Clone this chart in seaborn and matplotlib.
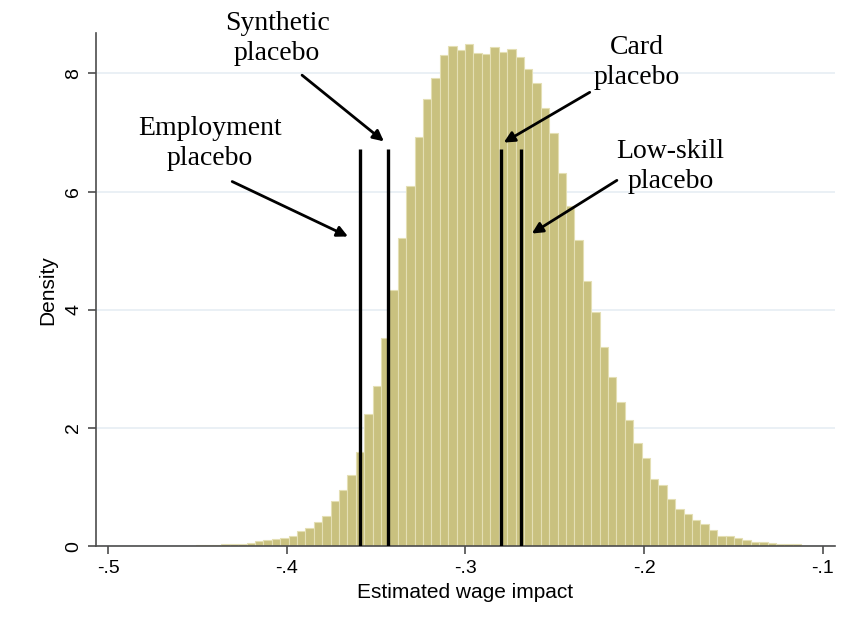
"""
Placebo wage impacts - histogram of estimated effects with placebo markers.
"""

import numpy as np
import pandas as pd
import matplotlib
matplotlib.use("Agg")
import matplotlib.pyplot as plt
import seaborn as sns

# ---- data ----
BIN_START = -0.4507
BIN_END = -0.1120
DENSITY = [
    0.02, 0.02, 0.02, 0.03, 0.04, 0.04, 0.05, 0.08, 0.10, 0.12,
    0.13, 0.17, 0.26, 0.30, 0.40, 0.51, 0.76, 0.95, 1.21, 1.59,
    2.23, 2.71, 3.52, 4.33, 5.22, 6.10, 6.93, 7.57, 7.92, 8.32,
    8.47, 8.39, 8.49, 8.35, 8.33, 8.44, 8.36, 8.42, 8.28, 8.08,
    7.83, 7.42, 6.99, 6.32, 5.75, 5.18, 4.48, 3.97, 3.37, 2.86,
    2.44, 2.14, 1.75, 1.49, 1.13, 1.03, 0.79, 0.63, 0.55, 0.44,
    0.37, 0.28, 0.17, 0.17, 0.13, 0.11, 0.07, 0.07, 0.06, 0.04,
    0.03, 0.03,
]

PLACEBO_NAMES = ["Employment\nplacebo", "Synthetic\nplacebo", "Card\nplacebo", "Low-skill\nplacebo"]
PLACEBO_X = [-0.3587, -0.3433, -0.2801, -0.2689]
PLACEBO_HEIGHT = 6.72

# label centre, arrow tail, arrow head (data units)
LABEL_POS = [(-0.4430, 6.81), (-0.4053, 8.59), (-0.2040, 8.19), (-0.1851, 6.42)]
ARROW_FROM = [(-0.4305, 6.17), (-0.3914, 7.97), (-0.2304, 7.68), (-0.2152, 6.19)]
ARROW_TO = [(-0.3657, 5.24), (-0.3456, 6.85), (-0.2785, 6.83), (-0.2628, 5.29)]

X_TICKS = [-0.5, -0.4, -0.3, -0.2, -0.1]
X_TICK_LABELS = ["-.5", "-.4", "-.3", "-.2", "-.1"]
Y_TICKS = [0, 2, 4, 6, 8]

BAR_COLOR = "#c9c17f"
BAR_EDGE = "#e4dfb4"
AXIS_GREY = "#4d4d4d"

sns.set_theme(style="white")
plt.rcParams["font.family"] = ["Liberation Sans", "DejaVu Sans"]
plt.rcParams["text.color"] = "black"
plt.rcParams["axes.labelcolor"] = "black"
plt.rcParams["xtick.color"] = "black"
plt.rcParams["ytick.color"] = "black"

edges = np.linspace(BIN_START, BIN_END, len(DENSITY) + 1)
hist_df = pd.DataFrame({
    "impact": (edges[:-1] + edges[1:]) / 2,
    "density": DENSITY,
})

fig = plt.figure(figsize=(8.5, 6.27), dpi=100)
ax = fig.add_axes([0.113, 0.129, 0.869, 0.818])

for y in Y_TICKS:
    ax.axhline(y, color="#e6eef3", lw=1.2, zorder=0)

# bins passed as a list: seaborn compares bins to "auto" when weights are given
sns.histplot(
    data=hist_df,
    x="impact",
    weights="density",
    bins=edges.tolist(),
    stat="count",
    color=BAR_COLOR,
    edgecolor=BAR_EDGE,
    linewidth=0.8,
    alpha=1,
    ax=ax,
    zorder=2,
)

ax.vlines(PLACEBO_X, 0, PLACEBO_HEIGHT, color="black", lw=2.4, zorder=3)

serif = ["Liberation Serif", "DejaVu Serif"]
for name, pos, a0, a1 in zip(PLACEBO_NAMES, LABEL_POS, ARROW_FROM, ARROW_TO):
    ax.text(pos[0], pos[1], name, ha="center", va="center", fontsize=20,
            family=serif, linespacing=1.25, clip_on=False, zorder=4)
    ax.annotate(
        "",
        xy=a1,
        xytext=a0,
        arrowprops=dict(arrowstyle="-|>", color="black", lw=2, mutation_scale=16,
                        shrinkA=0, shrinkB=0),
        annotation_clip=False,
        zorder=4,
    )

ax.set_xlim(-0.5067, -0.0933)
ax.set_ylim(0, 8.68)
ax.set_xticks(X_TICKS)
ax.set_xticklabels(X_TICK_LABELS)
ax.set_yticks(Y_TICKS)
ax.set_yticklabels([str(v) for v in Y_TICKS], rotation=90, va="center")

ax.set_xlabel("Estimated wage impact", fontsize=15, labelpad=4)
ax.set_ylabel("Density", fontsize=15, labelpad=6)
ax.tick_params(axis="both", labelsize=14, length=6, width=1.2, color=AXIS_GREY,
               direction="out", bottom=True, left=True, pad=4)

sns.despine(ax=ax)
for side in ("left", "bottom"):
    ax.spines[side].set_color(AXIS_GREY)
    ax.spines[side].set_linewidth(1.2)

fig.savefig("out.png", dpi=100)
plt.close(fig)
